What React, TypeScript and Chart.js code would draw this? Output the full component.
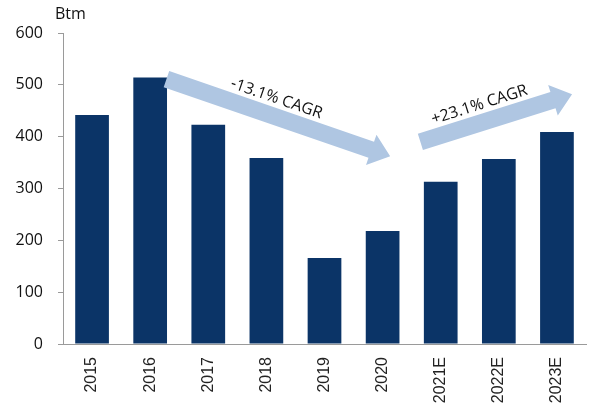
import React, { useEffect, useRef } from "react";
import { Chart, registerables } from "chart.js";

Chart.register(...registerables);

const categories = ["2015", "2016", "2017", "2018", "2019", "2020", "2021E", "2022E", "2023E"];
const values = [442, 514, 423, 359, 166, 218, 313, 357, 409];
const yTicks = [0, 100, 200, 300, 400, 500, 600];
const unitLabel = "Btm";
// arrows: [tailIndex, tailValue, tipIndex, tipValue, label]
const arrowDown = { from: [1.28, 511], to: [5.13, 362], label: "-13.1% CAGR" };
const arrowUp = { from: [5.65, 390], to: [8.26, 482], label: "+23.1% CAGR" };

const BAR = "#0b3467";
const ARROW = "#afc6e2";
const AXIS = "#9a9a9a";

export default function App() {
  const ref = useRef<HTMLCanvasElement | null>(null);

  useEffect(() => {
    document.body.style.margin = "0";
    const canvas = ref.current!;
    const arrowPlugin = {
      id: "cagrArrows",
      afterDatasetsDraw(chart: any) {
        const { ctx, scales } = chart;
        const xs = scales.x, ys = scales.y;
        const drawArrow = (a: any, textOffset: number) => {
          const x1 = xs.getPixelForValue(a.from[0]);
          const y1 = ys.getPixelForValue(a.from[1]);
          const x2 = xs.getPixelForValue(a.to[0]);
          const y2 = ys.getPixelForValue(a.to[1]);
          const ang = Math.atan2(y2 - y1, x2 - x1);
          const len = Math.hypot(x2 - x1, y2 - y1);
          const sw = 8.5, hw = 16, hl = 20;
          ctx.save();
          ctx.translate(x1, y1);
          ctx.rotate(ang);
          ctx.fillStyle = ARROW;
          ctx.beginPath();
          ctx.moveTo(0, -sw);
          ctx.lineTo(len - hl, -sw);
          ctx.lineTo(len - hl, -hw);
          ctx.lineTo(len, 0);
          ctx.lineTo(len - hl, hw);
          ctx.lineTo(len - hl, sw);
          ctx.lineTo(0, sw);
          ctx.closePath();
          ctx.fill();
          ctx.fillStyle = "#111";
          ctx.font = "16px 'Open Sans'";
          ctx.textAlign = "center";
          ctx.textBaseline = "bottom";
          ctx.fillText(a.label, len * 0.5 + textOffset, -sw - 1);
          ctx.restore();
        };
        drawArrow(arrowDown, -8);
        drawArrow(arrowUp, -12);
        ctx.save();
        ctx.fillStyle = "#111";
        ctx.font = "16px 'Open Sans'";
        ctx.textAlign = "left";
        ctx.textBaseline = "middle";
        ctx.fillText(unitLabel, 55, 14);
        ctx.restore();
      },
    };

    const chart = new Chart(canvas, {
      type: "bar",
      data: {
        labels: categories,
        datasets: [
          {
            data: values,
            backgroundColor: BAR,
            borderWidth: 0,
            barPercentage: 0.58,
            categoryPercentage: 1,
          },
        ],
      },
      options: {
        animation: false,
        responsive: false,
        maintainAspectRatio: false,
        layout: { padding: { left: 0, right: 8, top: 33, bottom: 0 } },
        plugins: { legend: { display: false }, tooltip: { enabled: false } },
        scales: {
          x: {
            grid: { display: false, drawTicks: false },
            border: { display: true, color: AXIS, width: 1 },
            ticks: {
              minRotation: 90,
              maxRotation: 90,
              padding: 13,
              color: "#222",
              font: { family: "'Liberation Sans', Arial", size: 16 },
            },
            afterFit: (s: any) => {
              s.height = 70;
            },
          },
          y: {
            min: 0,
            max: 600,
            afterBuildTicks: (s: any) => {
              s.ticks = yTicks.map((v) => ({ value: v }));
            },
            grid: { drawOnChartArea: false, drawTicks: true, tickLength: 5, color: AXIS },
            border: { display: true, color: AXIS, width: 1 },
            ticks: {
              padding: 15,
              color: "#111",
              font: { family: "'Open Sans'", size: 16 },
            },
            afterFit: (s: any) => {
              s.width = 63;
            },
          },
        },
      },
      plugins: [arrowPlugin],
    });
    return () => chart.destroy();
  }, []);

  return <canvas ref={ref} width={594} height={414} style={{ display: "block" }} />;
}
